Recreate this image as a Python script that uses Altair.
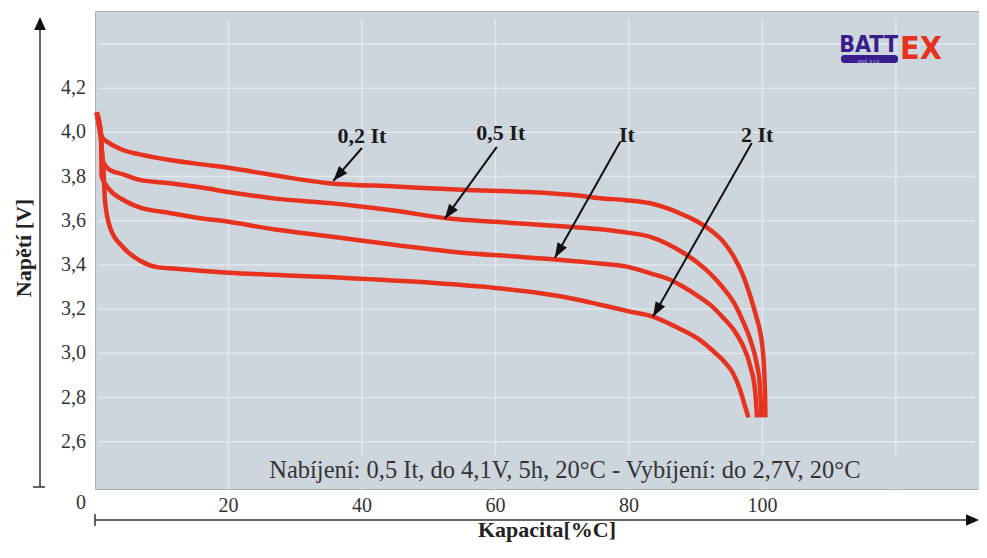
import math
import altair as alt
import pandas as pd

# ---------------- data ----------------
series_names = ["0,2 It", "0,5 It", "It", "2 It"]

cap_02 = [0.25, 1.0, 2.2, 4.2, 6.7, 11.2, 16, 20, 24, 28, 35, 45, 55, 65, 72, 75.7, 79.5,
          83.2, 85.8, 88.2, 90.3, 92.2, 94.0, 95.7, 97.0, 98.2, 99.0, 99.7, 100.1, 100.3, 100.4,
          100.45]
v_02 = [4.09, 3.98, 3.95, 3.92, 3.90, 3.875, 3.855, 3.84, 3.82, 3.80, 3.77, 3.755, 3.74, 3.73,
        3.715, 3.702, 3.693, 3.679, 3.656, 3.626, 3.595, 3.558, 3.51, 3.438, 3.36, 3.257, 3.175,
        3.09, 3.00, 2.90, 2.80, 2.71]

cap_05 = [0.25, 0.9, 1.1, 2.2, 4.2, 6.7, 11.2, 16, 20, 27, 35, 45, 53, 60, 65, 72, 76, 80,
          83.2, 85.8, 88.2, 90.3, 92.2, 94.0, 95.7, 97.0, 98.2, 99.1, 99.6, 99.85]
v_05 = [4.09, 3.99, 3.875, 3.83, 3.81, 3.785, 3.77, 3.75, 3.73, 3.70, 3.68, 3.645, 3.61, 3.595,
        3.585, 3.57, 3.56, 3.545, 3.527, 3.495, 3.454, 3.41, 3.36, 3.30, 3.23, 3.15, 3.06, 2.96,
        2.86, 2.71]

cap_1 = [0.25, 0.9, 1.0, 2.2, 4.2, 6.7, 11.2, 15, 20, 27, 35, 45, 55, 62, 69, 76, 80, 83.2,
         86.0, 88.2, 90.3, 92.2, 94.0, 95.7, 97.0, 98.2, 98.9, 99.2]
v_1 = [4.09, 3.99, 3.80, 3.74, 3.695, 3.66, 3.635, 3.615, 3.595, 3.56, 3.53, 3.49, 3.455, 3.44,
       3.425, 3.405, 3.39, 3.362, 3.335, 3.30, 3.26, 3.219, 3.165, 3.106, 3.04, 2.94, 2.83, 2.71]

cap_2 = [0.25, 0.8, 1.0, 1.25, 1.5, 2.25, 4.2, 6.7, 9.3, 11.2, 20, 35, 50, 60, 66, 72, 75.7,
         80, 83.6, 87.0, 90.6, 93.0, 94.5, 95.6, 96.6, 97.4, 97.9]
v_2 = [4.09, 3.99, 3.93, 3.84, 3.69, 3.57, 3.48, 3.42, 3.39, 3.385, 3.365, 3.345, 3.32, 3.296,
       3.275, 3.245, 3.22, 3.19, 3.166, 3.12, 3.061, 3.00, 2.955, 2.91, 2.84, 2.76, 2.71]

# labels of the curves and their arrows (start -> tip), data coordinates
label_x = [40.0, 60.8, 79.7, 99.2]
label_v = [3.952, 3.966, 3.957, 3.957]
arrow_x0 = [40.0, 60.2, 78.7, 98.4]
arrow_v0 = [3.929, 3.934, 3.957, 3.952]
arrow_x1 = [35.7, 52.4, 68.9, 83.6]
arrow_v1 = [3.78, 3.608, 3.432, 3.165]

note_text = ["Nabíjení: 0,5 It, do 4,1V, 5h, 20°C - Vybíjení: do 2,7V, 20°C"]
note_x = [70.4]
note_v = [2.436]

x_tick_vals = [20, 40, 60, 80, 100]
x_tick_text = ["20", "40", "60", "80", "100"]
y_tick_vals = [2.6, 2.8, 3.0, 3.2, 3.4, 3.6, 3.8, 4.0, 4.2]
y_tick_text = ["2,6", "2,8", "3,0", "3,2", "3,4", "3,6", "3,8", "4,0", "4,2"]
grid_x = [20, 40, 60, 80, 100, 120]
grid_v = [2.6, 2.8, 3.0, 3.2, 3.4, 3.6, 3.8, 4.0, 4.2, 4.4]
origin_label = ["0"]
x_title = ["Kapacita[%C]"]
y_title = ["Napětí [V]"]
logo_left = ["BATT"]
logo_right = ["EX"]
logo_small = ["spol. s r.o."]

# ---------------- styling ----------------
RED = "#e6321e"
BG = "#cdd6dd"
GRID = "#e2e8ed"
SERIF = "Liberation Serif"
LOGO_FONT = "DejaVu Sans Condensed, Liberation Sans Narrow, Liberation Sans"
W, H = 884, 478
X_DOM = [0, 132.45]
Y_DOM = [2.386, 4.549]

rows = []
for name, xs_, vs_ in zip(series_names, [cap_02, cap_05, cap_1, cap_2], [v_02, v_05, v_1, v_2]):
    for i, (a, b) in enumerate(zip(xs_, vs_)):
        rows.append({"serie": name, "i": i, "cap": a, "v": b})
curves = pd.DataFrame(rows)

px_x = W / (X_DOM[1] - X_DOM[0])
px_y = H / (Y_DOM[1] - Y_DOM[0])
angles = []
for x0, v0, x1, v1 in zip(arrow_x0, arrow_v0, arrow_x1, arrow_v1):
    dx = (x1 - x0) * px_x
    dy = -(v1 - v0) * px_y
    angles.append(math.degrees(math.atan2(dx, -dy)) % 360)

arrows = pd.DataFrame({"x0": arrow_x0, "v0": arrow_v0, "x1": arrow_x1, "v1": arrow_v1,
                       "ang": angles})
labels = pd.DataFrame({"t": series_names, "x": label_x, "v": label_v})
note = pd.DataFrame({"t": note_text, "x": note_x, "v": note_v})
hgrid = pd.DataFrame({"v": grid_v, "x": [0.6] * len(grid_v), "x2": [131.9] * len(grid_v)})
vgrid = pd.DataFrame({"x": grid_x, "v": [Y_DOM[0]] * len(grid_x), "v2": [4.51] * len(grid_x)})
cover = pd.DataFrame({"x": [25.0], "x2": [122.0], "v": [Y_DOM[0] + 0.005], "v2": [2.54]})
xticks = pd.DataFrame({"x": x_tick_vals, "t": x_tick_text})
yticks = pd.DataFrame({"v": y_tick_vals, "t": y_tick_text})

xs = alt.Scale(domain=X_DOM, nice=False, zero=False)
ys = alt.Scale(domain=Y_DOM, nice=False, zero=False)
NOAX = None

h_grid = alt.Chart(hgrid).mark_rule(color=GRID, strokeWidth=1.5).encode(
    x=alt.X("x:Q", scale=xs, axis=NOAX), x2="x2:Q",
    y=alt.Y("v:Q", scale=ys, axis=NOAX))
v_grid = alt.Chart(vgrid).mark_rule(color=GRID, strokeWidth=1.5).encode(
    x=alt.X("x:Q", scale=xs, axis=NOAX),
    y=alt.Y("v:Q", scale=ys, axis=NOAX), y2="v2:Q")

cover_rect = alt.Chart(cover).mark_rect(color=BG).encode(
    x=alt.X("x:Q", scale=xs, axis=NOAX), x2="x2:Q",
    y=alt.Y("v:Q", scale=ys, axis=NOAX), y2="v2:Q")

lines = alt.Chart(curves).mark_line(
    color=RED, strokeWidth=4.5, interpolate="monotone", strokeCap="butt", strokeJoin="round"
).encode(
    x=alt.X("cap:Q", scale=xs, axis=NOAX),
    y=alt.Y("v:Q", scale=ys, axis=NOAX),
    detail="serie:N",
    order="i:Q",
)

arrow_lines = alt.Chart(arrows).mark_rule(color="#111111", strokeWidth=2).encode(
    x=alt.X("x0:Q", scale=xs, axis=NOAX), x2="x1:Q",
    y=alt.Y("v0:Q", scale=ys, axis=NOAX), y2="v1:Q")

arrow_heads = alt.Chart(arrows).mark_point(
    shape="M0,0L-0.36,1L0.36,1Z", filled=True, color="#111111", opacity=1, size=900, strokeWidth=0
).encode(
    x=alt.X("x1:Q", scale=xs, axis=NOAX),
    y=alt.Y("v1:Q", scale=ys, axis=NOAX),
    angle=alt.Angle("ang:Q", scale=None))

label_text = alt.Chart(labels).mark_text(
    font=SERIF, fontSize=22, fontWeight="bold", color="#1a1a1a", baseline="alphabetic"
).encode(
    x=alt.X("x:Q", scale=xs, axis=NOAX), y=alt.Y("v:Q", scale=ys, axis=NOAX), text="t:N")

note_mark = alt.Chart(note).mark_text(
    font=SERIF, fontSize=24.5, color="#333333", baseline="alphabetic"
).encode(
    x=alt.X("x:Q", scale=xs, axis=NOAX), y=alt.Y("v:Q", scale=ys, axis=NOAX), text="t:N")

# ---- tick labels and titles ----
x_labels = alt.Chart(xticks).mark_text(
    font=SERIF, fontSize=20, color="#333333", baseline="middle"
).encode(x=alt.X("x:Q", scale=xs, axis=NOAX), y=alt.value(H + 17), text="t:N")
y_labels = alt.Chart(yticks).mark_text(
    font=SERIF, fontSize=20, color="#333333", baseline="middle", align="right"
).encode(x=alt.value(-9), y=alt.Y("v:Q", scale=ys, axis=NOAX), text="t:N")
origin = alt.Chart(pd.DataFrame({"t": origin_label})).mark_text(
    font=SERIF, fontSize=20, color="#333333", baseline="middle"
).encode(x=alt.value(-14), y=alt.value(H + 14), text="t:N")
x_tit = alt.Chart(pd.DataFrame({"t": x_title})).mark_text(
    font=SERIF, fontSize=22, fontWeight="bold", color="#222222", baseline="alphabetic"
).encode(x=alt.value(452), y=alt.value(526), text="t:N")
y_tit = alt.Chart(pd.DataFrame({"t": y_title})).mark_text(
    font=SERIF, fontSize=22, fontWeight="bold", color="#222222", baseline="middle",
    align="center", angle=270
).encode(x=alt.value(-71), y=alt.value(237), text="t:N")

# ---- axis arrows drawn outside the plot ----
deco = pd.DataFrame({"d": [0]})
y_axis_line = alt.Chart(deco).mark_rule(color="#333333", strokeWidth=1.5).encode(
    x=alt.value(-55), y=alt.value(12), y2=alt.value(476))
y_axis_foot = alt.Chart(deco).mark_rule(color="#333333", strokeWidth=1.5).encode(
    x=alt.value(-62), x2=alt.value(-50), y=alt.value(476))
y_axis_head = alt.Chart(deco).mark_point(
    shape="M0,0L-0.45,1L0.45,1Z", filled=True, color="#111111", opacity=1, size=676, strokeWidth=0
).encode(x=alt.value(-55), y=alt.value(6))
x_axis_line = alt.Chart(deco).mark_rule(color="#333333", strokeWidth=1.5).encode(
    x=alt.value(0), x2=alt.value(875), y=alt.value(509))
x_axis_foot = alt.Chart(deco).mark_rule(color="#333333", strokeWidth=1.5).encode(
    x=alt.value(0), y=alt.value(503), y2=alt.value(515))
x_axis_head = alt.Chart(deco).mark_point(
    shape="M0,0L-1,-0.45L-1,0.45Z", filled=True, color="#111111", opacity=1, size=676, strokeWidth=0
).encode(x=alt.value(884), y=alt.value(509))

# ---- logo ----
logo_a = alt.Chart(pd.DataFrame({"t": logo_left})).mark_text(
    font=LOGO_FONT, fontSize=23, fontWeight="bold", color="#3a1d8c", align="right",
    baseline="alphabetic"
).encode(x=alt.value(803), y=alt.value(41), text="t:N")
logo_bar = alt.Chart(deco).mark_rect(color="#3a1d8c", cornerRadius=3).encode(
    x=alt.value(746), x2=alt.value(803), y=alt.value(44), y2=alt.value(52))
logo_s = alt.Chart(pd.DataFrame({"t": logo_small})).mark_text(
    font="Liberation Sans", fontSize=5, color="#b8b0e0", baseline="middle"
).encode(x=alt.value(774), y=alt.value(49.5), text="t:N")
logo_b = alt.Chart(pd.DataFrame({"t": logo_right})).mark_text(
    font=LOGO_FONT, fontSize=32, fontWeight="bold", color=RED, align="left", baseline="alphabetic"
).encode(x=alt.value(805), y=alt.value(48), text="t:N")

chart = alt.layer(
    h_grid, v_grid, cover_rect, lines, arrow_lines, arrow_heads, label_text, note_mark,
    x_labels, y_labels, origin, x_tit, y_tit,
    y_axis_line, y_axis_foot, y_axis_head, x_axis_line, x_axis_foot, x_axis_head,
    logo_bar, logo_s, logo_a, logo_b,
).properties(
    width=W, height=H,
    padding={"left": 87, "top": 3, "right": 0, "bottom": 55},
    autosize=alt.AutoSizeParams(type="none"),
    background="white",
).configure_view(
    fill=BG, stroke="#aab3bb", strokeWidth=1
)

chart.save("out.html", embed_options={"renderer": "svg", "actions": False})
